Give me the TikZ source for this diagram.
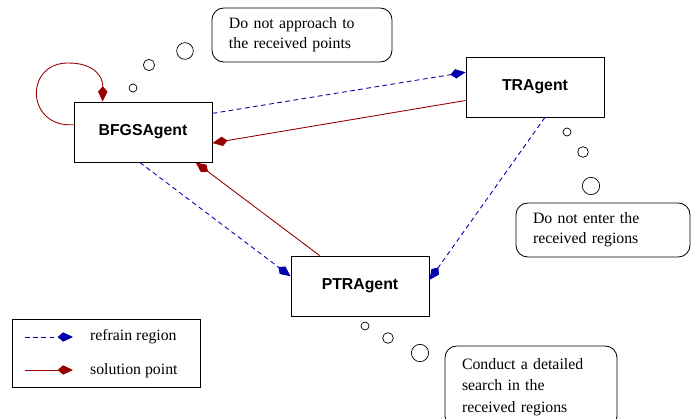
\documentclass[tikz,border=0pt]{standalone}
\usepackage{fontspec}
\setmainfont{Liberation Serif}
\setsansfont{Liberation Sans}
\usetikzlibrary{arrows.meta}
\definecolor{regblue}{RGB}{0,0,170}
\definecolor{solred}{RGB}{150,0,0}
\begin{document}
\begin{tikzpicture}[x=0.03cm,y=-0.03cm,
    agent/.style={draw,line width=0.8pt,minimum width=4.14cm,minimum height=1.8cm,inner sep=0pt,
        font=\sffamily\bfseries\fontsize{13.5}{16}\selectfont},
    thought/.style={draw,line width=0.7pt,rounded corners=10pt,align=left,inner xsep=0.51cm,inner ysep=0pt,
        font=\fontsize{13.5}{17}\selectfont},
    refrain/.style={regblue,line width=0.75pt,dash pattern=on 4pt off 3pt,
        -{Kite[length=13pt,width=8pt,inset=4.5pt]}},
    solution/.style={solred,line width=0.75pt,-{Kite[length=13pt,width=8pt,inset=4.5pt]}},
    bubble/.style={draw,line width=0.6pt}]
    \useasboundingbox (0,0) rectangle (691,419);

    % Agents
    \node[agent] (bfgs) at (143,132) {BFGSAgent};
    \node[agent] (tr) at (535,87) {TRAgent};
    \node[agent] (ptr) at (360,286) {PTRAgent};

    % Thoughts of the agents
    \node[thought,text width=4.38cm,minimum height=1.62cm] (t1) at (302,35)
        {Do not approach to\\the received points};
    \node[thought,text width=4.2cm,minimum height=1.62cm] (t2) at (603,230)
        {Do not enter the\\received regions};
    \node[thought,text width=4.14cm,minimum height=2.46cm,
        font=\fontsize{13.5}{18.5}\selectfont] (t3) at (531,387)
        {Conduct a detailed\\search in the\\received regions};

    % Bubbles
    \draw[bubble] (133,88) circle[radius=0.12cm];
    \draw[bubble] (149,65) circle[radius=0.17cm];
    \draw[bubble] (185,51) circle[radius=0.25cm];
    \draw[bubble] (567,132) circle[radius=0.12cm];
    \draw[bubble] (583,152) circle[radius=0.16cm];
    \draw[bubble] (591,186) circle[radius=0.26cm];
    \draw[bubble] (365,326) circle[radius=0.12cm];
    \draw[bubble] (388,338) circle[radius=0.16cm];
    \draw[bubble] (420,353) circle[radius=0.26cm];

    % Messages between the agents
    \draw[refrain] (bfgs.15) -- (tr.168);
    \draw[solution] (tr.191) -- (bfgs.351);
    \draw[refrain] (bfgs.264) -- (ptr.172);
    \draw[solution] (ptr.143) -- (bfgs.330);
    \draw[refrain] (tr.288) -- (ptr.5);
    \draw[solution] (bfgs.174) .. controls (26,128) and (24,63) .. (68,63)
        .. controls (96,63) and (103,78) .. (bfgs.143);

    % Legend
    \node[draw,line width=0.8pt,minimum width=5.64cm,minimum height=2.04cm] (leg) at (106,353) {};
    \coordinate (r1) at (25,337);
    \coordinate (r2) at (73,337);
    \coordinate (s1) at (25,370);
    \coordinate (s2) at (73,370);
    \draw[refrain] (r1) -- (r2);
    \draw[solution] (s1) -- (s2);
    \node[anchor=west,font=\fontsize{13.5}{16}\selectfont] (lr) at (86,337) {refrain region};
    \node[anchor=west,font=\fontsize{13.5}{16}\selectfont] (ls) at (86,371) {solution point};
\end{tikzpicture}
\end{document}
